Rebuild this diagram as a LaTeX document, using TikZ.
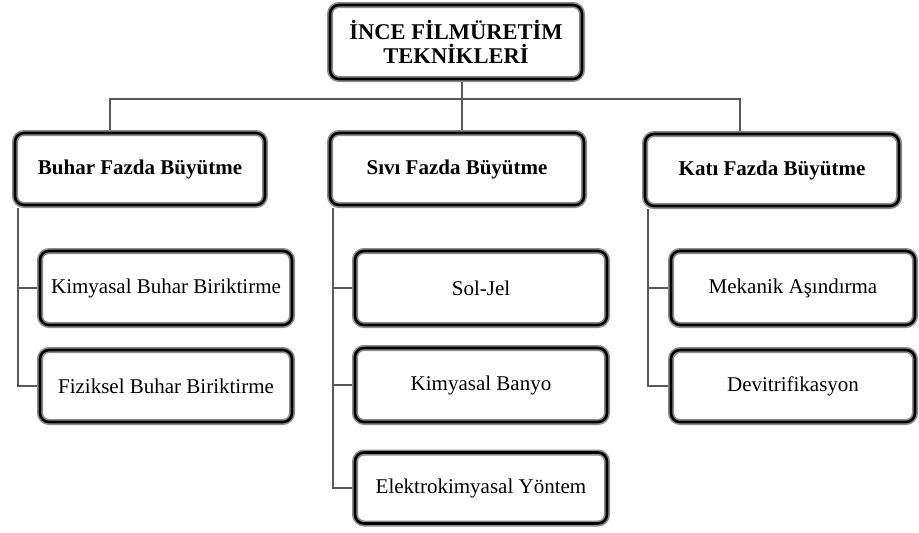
\documentclass[tikz,border=0pt]{standalone}
\usepackage{fontspec}
\setmainfont{Liberation Serif}
\usepackage{tikz}

\begin{document}
\begin{tikzpicture}[x=1pt, y=-1pt,
    box/.style={preaction={fill=white}, draw=black!45, line width=6pt, rounded corners=9pt,
        postaction={draw=black, line width=2.6pt}, minimum width=252pt, minimum height=74pt,
        inner sep=0pt, align=center, font=\fontsize{21}{24}\selectfont},
    head/.style={box, font=\fontsize{21}{24}\selectfont\bfseries},
    link/.style={draw=black!65, line width=1.3pt}]
    \useasboundingbox (0,0) rectangle (919,533);

    % Top
    \node[head, minimum width=252pt, font=\fontsize{22.5}{24}\selectfont\bfseries] (top) at (456,42) {İNCE FİLMÜRETİM\\TEKNİKLERİ};

    % Second level
    \node[head, minimum width=250pt, minimum height=72pt] (buhar) at (140,169) {Buhar Fazda Büyütme};
    \node[head, minimum width=254pt, minimum height=72pt] (sivi) at (457,169) {Sıvı Fazda Büyütme};
    \node[head, minimum width=254pt, minimum height=72pt] (kati) at (772,170) {Katı Fazda Büyütme};

    % Leaves
    \node[box] (kimyasal) at (166,288) {Kimyasal Buhar Biriktirme};
    \node[box, minimum height=72pt] (fiziksel) at (166,386) {Fiziksel Buhar Biriktirme};
    \node[box] (soljel) at (481,288) {Sol-Jel};
    \node[box] (banyo) at (481,385) {Kimyasal Banyo};
    \node[box, minimum height=71pt] (elektro) at (481,488) {Elektrokimyasal Yöntem};
    \node[box, minimum width=244pt] (mekanik) at (793,288) {Mekanik Aşındırma};
    \node[box, minimum width=244pt, minimum height=72pt] (devitri) at (793,386) {Devitrifikasyon};

    % Connectors
    \coordinate (hub) at (462,99);
    \coordinate (lft) at (110,99);
    \coordinate (rgt) at (740,99);
    \draw[link] (top.south -| hub) -- (sivi.north -| hub);
    \draw[link] (buhar.north -| lft) |- (rgt) -- (kati.north -| rgt);

    \foreach \a/\b in {buhar/kimyasal, buhar/fiziksel, sivi/soljel, sivi/banyo, sivi/elektro,
        kati/mekanik, kati/devitri} {
        \draw[link] ([xshift=6pt]\a.south west) |- (\b.west);
    }
\end{tikzpicture}
\end{document}
